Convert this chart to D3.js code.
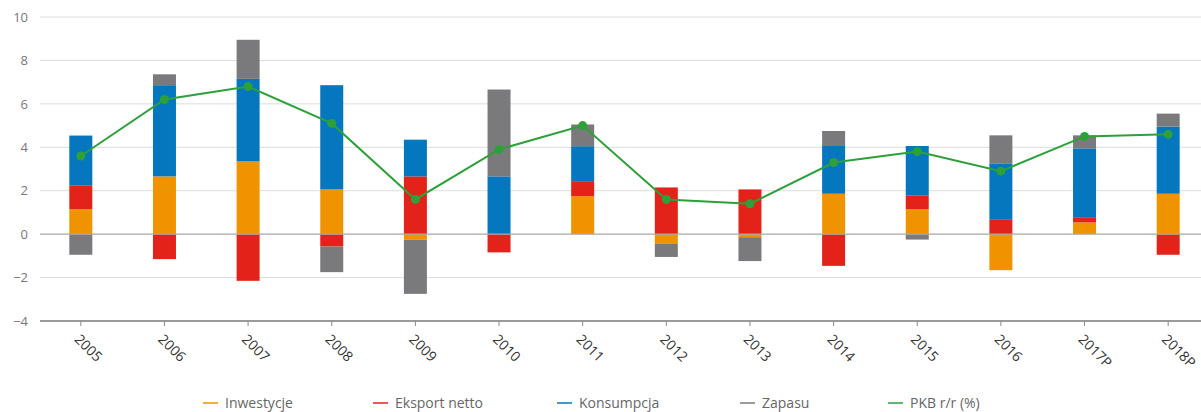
<!DOCTYPE html>
<html><head><meta charset="utf-8">
<script src="https://cdn.jsdelivr.net/npm/d3@7"></script>
<style>
html,body{margin:0;padding:0;background:#fff;overflow:hidden}
svg{display:block;font-family:"Open Sans",sans-serif}
</style></head>
<body><svg id="c" width="1201" height="412"></svg>
<script>
const years = ["2005","2006","2007","2008","2009","2010","2011","2012","2013","2014","2015","2016","2017P","2018P"];
const inwestycje = [1.15, 2.66, 3.35, 2.06, -0.25, 0, 1.75, -0.45, -0.14, 1.86, 1.15, -1.66, 0.54, 1.86];
const eksport    = [1.1, -1.15, -2.15, -0.57, 2.66, -0.84, 0.69, 2.15, 2.06, -1.46, 0.62, 0.66, 0.21, -0.95];
const konsumpcja = [2.29, 4.2, 3.8, 4.8, 1.69, 2.66, 1.61, 0, 0, 2.2, 2.29, 2.6, 3.2, 3.09];
const zapasy     = [-0.95, 0.5, 1.8, -1.18, -2.5, 4.0, 1.0, -0.6, -1.1, 0.69, -0.25, 1.29, 0.6, 0.6];
const pkb        = [3.6, 6.2, 6.8, 5.1, 1.6, 3.9, 5.0, 1.6, 1.4, 3.3, 3.8, 2.9, 4.5, 4.6];
const yTicks = [-4, -2, 0, 2, 4, 6, 8, 10];
const seriesNames = ["Inwestycje", "Eksport netto", "Konsumpcja", "Zapasu"];
const lineName = "PKB r/r (%)";
const colors = ["#F09300", "#E32219", "#0477BF", "#7A7A7C"];
const lineColor = "#2DA039";

const svg = d3.select("#c");
const x = d3.scaleBand().domain(years).range([39, 1210]).paddingInner(0.725).paddingOuter(0.3625);
const y = d3.scaleLinear().domain([-4, 10]).range([321, 17]);

// grid
svg.append("g").selectAll("line").data(yTicks.filter(t => t !== -4 && t !== 0)).join("line")
  .attr("x1", 40).attr("x2", 1201).attr("y1", d => y(d)).attr("y2", d => y(d))
  .attr("stroke", "#dcdcdc").attr("stroke-width", 1);

// y labels
const yAxis = svg.append("g").attr("transform", "translate(28,0)")
  .call(d3.axisLeft(y).tickValues(yTicks).tickSize(0).tickPadding(0));
yAxis.select(".domain").remove();
yAxis.selectAll("text").attr("fill", "#777").attr("font-size", 13).attr("font-family", "'Open Sans',sans-serif");

// stacked bars
const table = years.map((yr, i) => ({year: yr, s0: inwestycje[i], s1: eksport[i], s2: konsumpcja[i], s3: zapasy[i]}));
const stack = d3.stack().keys(["s0","s1","s2","s3"]).offset(d3.stackOffsetDiverging);
const stacked = stack(table);
svg.append("g").selectAll("g").data(stacked).join("g").attr("fill", (d, i) => colors[i])
  .selectAll("rect").data(d => d).join("rect")
  .attr("x", d => x(d.data.year))
  .attr("width", x.bandwidth())
  .attr("y", d => y(Math.max(d[0], d[1])))
  .attr("height", d => Math.abs(y(d[0]) - y(d[1])));

// zero line
svg.append("line").attr("x1", 40).attr("x2", 1201).attr("y1", y(0)).attr("y2", y(0))
  .attr("stroke", "#a8a8a8").attr("stroke-width", 1.2);

// x axis
const xAxis = svg.append("g").attr("transform", `translate(0,${y(-4)})`)
  .call(d3.axisBottom(x).tickSize(5).tickSizeOuter(0));
xAxis.select(".domain").attr("stroke", "#9a9a9a").attr("stroke-width", 2).attr("d", "M40,0H1201");
xAxis.selectAll(".tick line").attr("stroke", "#888");
xAxis.selectAll("text").attr("fill", "#333").attr("font-size", 14)
  .attr("font-family", "'Open Sans',sans-serif")
  .attr("text-anchor", "start").attr("dy", "0.35em")
  .attr("transform", "translate(2,10) rotate(45)");

// line
const line = d3.line().x((d, i) => x(years[i]) + x.bandwidth() / 2).y(d => y(d));
svg.append("path").datum(pkb).attr("d", line).attr("fill", "none")
  .attr("stroke", lineColor).attr("stroke-width", 2);
svg.append("g").selectAll("circle").data(pkb).join("circle")
  .attr("cx", (d, i) => x(years[i]) + x.bandwidth() / 2).attr("cy", d => y(d))
  .attr("r", 4.5).attr("fill", lineColor);

// legend
const legendItems = seriesNames.map((n, i) => ({name: n, color: colors[i]})).concat([{name: lineName, color: lineColor}]);
const legendX = [203, 373, 557, 740, 888];
const lg = svg.append("g").selectAll("g").data(legendItems).join("g")
  .attr("transform", (d, i) => `translate(${legendX[i]},0)`);
lg.append("line").attr("x1", 0).attr("x2", 15).attr("y1", 403).attr("y2", 403)
  .attr("stroke", d => d.color).attr("stroke-width", 2).attr("opacity", 0.75);
lg.append("text").attr("x", 22).attr("y", 408).text(d => d.name)
  .attr("fill", "#666").attr("font-size", 14);
</script></body></html>
